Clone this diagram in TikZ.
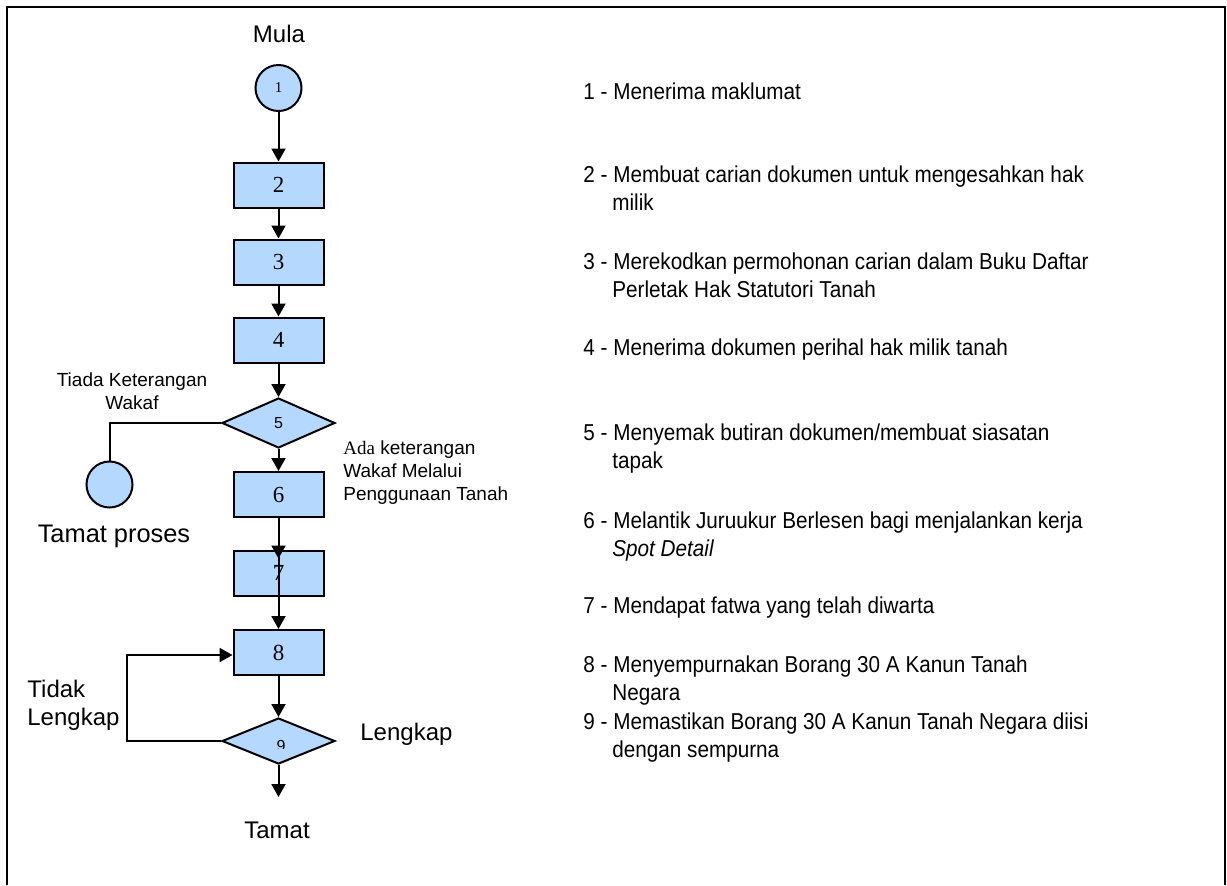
\documentclass[tikz,border=0pt]{standalone}
\usepackage{fontspec}
\setmainfont{Liberation Sans}
\newfontfamily\seriffont{Liberation Serif}
\newfontfamily\narrowfont{Liberation Sans}[FakeStretch=0.9]
\usetikzlibrary{arrows.meta,shapes.geometric}
\definecolor{boxblue}{RGB}{181,216,255}
\tikzset{
  stepbox/.style={draw, line width=1pt, fill=boxblue, minimum width=45pt, minimum height=22.5pt, inner sep=0pt, font=\seriffont\fontsize{11.5}{13}\selectfont},
  decision/.style={draw, diamond, line width=1pt, fill=boxblue, aspect=2, inner sep=0pt, font=\fontsize{8}{9}\selectfont},
  terminal/.style={draw, circle, line width=1pt, fill=boxblue, minimum size=23pt, inner sep=0pt, font=\seriffont\fontsize{7.5}{9}\selectfont},
  arr/.style={line width=1pt, -{Triangle[width=7pt,length=6.5pt]}},
  conn/.style={line width=1pt},
  lbl/.style={inner sep=0pt, font=\fontsize{12}{14}\selectfont},
  smalllbl/.style={inner sep=0pt, font=\fontsize{9.5}{11.5}\selectfont},
  item/.style={anchor=base west, inner sep=0pt, align=left, font=\narrowfont\fontsize{11.5}{14}\selectfont},
}
\begin{document}
\begin{tikzpicture}[x=0.5pt, y=-0.5pt]
\useasboundingbox (0,0) rectangle (1227,885);
% outer frame (bottom edge lies below the picture)
\draw[line width=1.2pt] (7,885) -- (7,7) -- (1225,7) -- (1225,885);

% flow nodes
\node[terminal] (c1) at (278.5,88) {1};
\node[stepbox] (b2) at (278.5,185) {2};
\node[stepbox] (b3) at (278.5,262) {3};
\node[stepbox] (b4) at (278.5,340) {4};
\node[decision, minimum width=56.5pt, minimum height=25pt] (d5) at (278.5,423) {5};
\node[stepbox] (b6) at (278.5,494.5) {6};
\node[stepbox] (b7) at (278.5,573) {7};
\node[stepbox] (b8) at (278.5,652.5) {8};
\node[decision, minimum width=56.5pt, minimum height=23pt] (d9) at (278.5,741) {};
\begin{scope}
  \clip (222,718) rectangle (335,748);
  \node[inner sep=0pt, font=\fontsize{8}{9}\selectfont] (n9) at (281,746) {9};
\end{scope}
\node[terminal] (c2) at (109.5,484.5) {};
\coordinate (lp) at (127,741);
\coordinate (endpt) at (278.5,797);

% connectors
\draw[arr] (c1) -- (b2);
\draw[arr] (b2) -- (b3);
\draw[arr] (b3) -- (b4);
\draw[arr] (b4) -- (d5);
\draw[arr] (d5) -- (b6);
\draw[arr] (b6) -- ([yshift=-4.5pt]b7.north);
\draw[conn] (b7.north) -- (b7.south);
\draw[arr] (b7) -- (b8);
\draw[arr] (b8) -- (d9);
\draw[arr] (d9) -- (endpt);
\draw[conn] (d5.west) -| (c2.north);
\draw[arr] (d9.west) -- (lp) |- ([yshift=-1.25pt]b8.west);

% labels (base anchor of a multi-line node = baseline of its last line)
\node[lbl, anchor=base] (mula) at (279,42) {Mula};
\node[smalllbl, anchor=base, align=center] (tiada) at (132,409) {Tiada Keterangan\\Wakaf};
\node[smalllbl, anchor=base west, align=left] (ada) at (343,500) {{\seriffont Ada} keterangan\\Wakaf Melalui\\Penggunaan Tanah};
\node[lbl, anchor=base, font=\fontsize{12.7}{14}\selectfont] (tp) at (114,542) {Tamat proses};
\node[lbl, anchor=base west, align=left] (tl) at (27,725) {Tidak\\Lengkap};
\node[lbl, anchor=base west] (lk) at (360,740) {Lengkap};
\node[lbl, anchor=base] (tamat) at (277,838) {Tamat};

% list on the right
\node[item] (t1) at (583,99) {1 - Menerima maklumat};
\node[item] (t2) at (583,210) {2 - Membuat carian dokumen untuk mengesahkan hak\\\hspace*{14.5pt}milik};
\node[item] (t3) at (583,297) {3 - Merekodkan permohonan carian dalam Buku Daftar\\\hspace*{14.5pt}Perletak Hak Statutori Tanah};
\node[item] (t4) at (583,355) {4 - Menerima dokumen perihal hak milik tanah};
\node[item] (t5) at (583,468) {5 - Menyemak butiran dokumen/membuat siasatan\\\hspace*{14.5pt}tapak};
\node[item] (t6) at (583,556) {6 - Melantik Juruukur Berlesen bagi menjalankan kerja\\\hspace*{14.5pt}\textit{Spot Detail}};
\node[item] (t7) at (583,613) {7 - Mendapat fatwa yang telah diwarta};
\node[item] (t8) at (583,700) {8 - Menyempurnakan Borang 30 A Kanun Tanah\\\hspace*{14.5pt}Negara};
\node[item] (t9) at (583,757) {9 - Memastikan Borang 30 A Kanun Tanah Negara diisi\\\hspace*{14.5pt}dengan sempurna};
\end{tikzpicture}
\end{document}
